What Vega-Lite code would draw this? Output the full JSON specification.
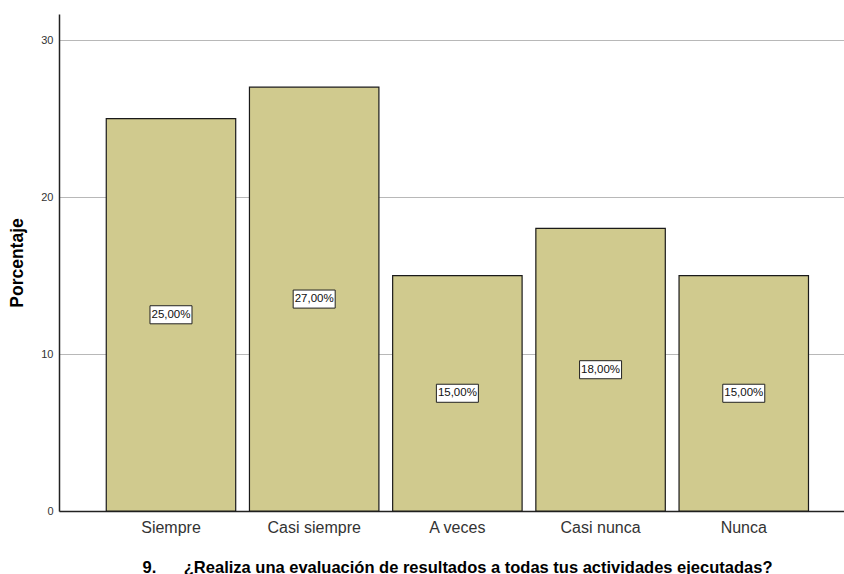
{
  "$schema": "https://vega.github.io/schema/vega-lite/v6.json",
  "autosize": "none",
  "padding": {"left": 59, "top": 14, "right": 0, "bottom": 63},
  "width": 785,
  "height": 497,
  "background": "white",
  "config": {
    "font": "Liberation Sans",
    "view": {"stroke": null}
  },
  "data": {
    "values": [
      {"respuesta": "Siempre", "porcentaje": 25},
      {"respuesta": "Casi siempre", "porcentaje": 27},
      {"respuesta": "A veces", "porcentaje": 15},
      {"respuesta": "Casi nunca", "porcentaje": 18},
      {"respuesta": "Nunca", "porcentaje": 15}
    ]
  },
  "encoding": {
    "x": {
      "field": "respuesta",
      "type": "nominal",
      "sort": null,
      "scale": {"paddingInner": 0.096, "paddingOuter": 0.289, "align": 0.571},
      "axis": {
        "title": "9.\u00a0\u00a0\u00a0\u00a0\u00a0\u00a0¿Realiza una evaluación de resultados a todas tus actividades ejecutadas?",
        "titleFont": "Liberation Sans",
        "titleFontSize": 16.5,
        "titleFontWeight": "bold",
        "titleColor": "#000000",
        "titlePadding": 24,
        "titleX": 398,
        "labelAngle": 0,
        "labelFontSize": 16,
        "labelColor": "#333333",
        "labelPadding": 8,
        "ticks": false,
        "domainColor": "#222222",
        "domainWidth": 1.5,
        "grid": false
      }
    }
  },
  "layer": [
    {
      "mark": {"type": "bar", "fill": "#D0CA8E", "stroke": "#1a1a1a", "strokeWidth": 1.2},
      "encoding": {
        "y": {
          "field": "porcentaje",
          "type": "quantitative",
          "scale": {"domain": [0, 31.66], "nice": false},
          "axis": {
            "title": "Porcentaje",
            "titleFontSize": 17.5,
            "titleFontWeight": "bold",
            "titleColor": "#000000",
            "titlePadding": 14,
            "values": [0, 10, 20, 30],
            "labelFontSize": 11,
            "labelColor": "#333333",
            "labelPadding": 6,
            "ticks": false,
            "domainColor": "#222222",
            "domainWidth": 1.5,
            "grid": true,
            "gridColor": "#b8b8b8",
            "gridWidth": 1
          }
        }
      }
    },
    {
      "mark": {
        "type": "point",
        "shape": "M-1,-0.43L1,-0.43L1,0.43L-1,0.43Z",
        "size": 1764,
        "filled": true,
        "fill": "white",
        "stroke": "#222222",
        "strokeWidth": 1,
        "opacity": 1
      },
      "encoding": {
        "y": {
          "field": "porcentaje",
          "type": "quantitative",
          "scale": {"domain": [0, 63.32], "nice": false},
          "axis": null
        }
      }
    },
    {
      "mark": {
        "type": "text",
        "fontSize": 11.5,
        "color": "#111111",
        "text": {"expr": "replace(format(datum.porcentaje, '.2f'), '.', ',') + '%'"}
      },
      "encoding": {
        "y": {
          "field": "porcentaje",
          "type": "quantitative",
          "scale": {"domain": [0, 63.32], "nice": false},
          "axis": null
        }
      }
    }
  ],
  "resolve": {"scale": {"y": "independent"}}
}
